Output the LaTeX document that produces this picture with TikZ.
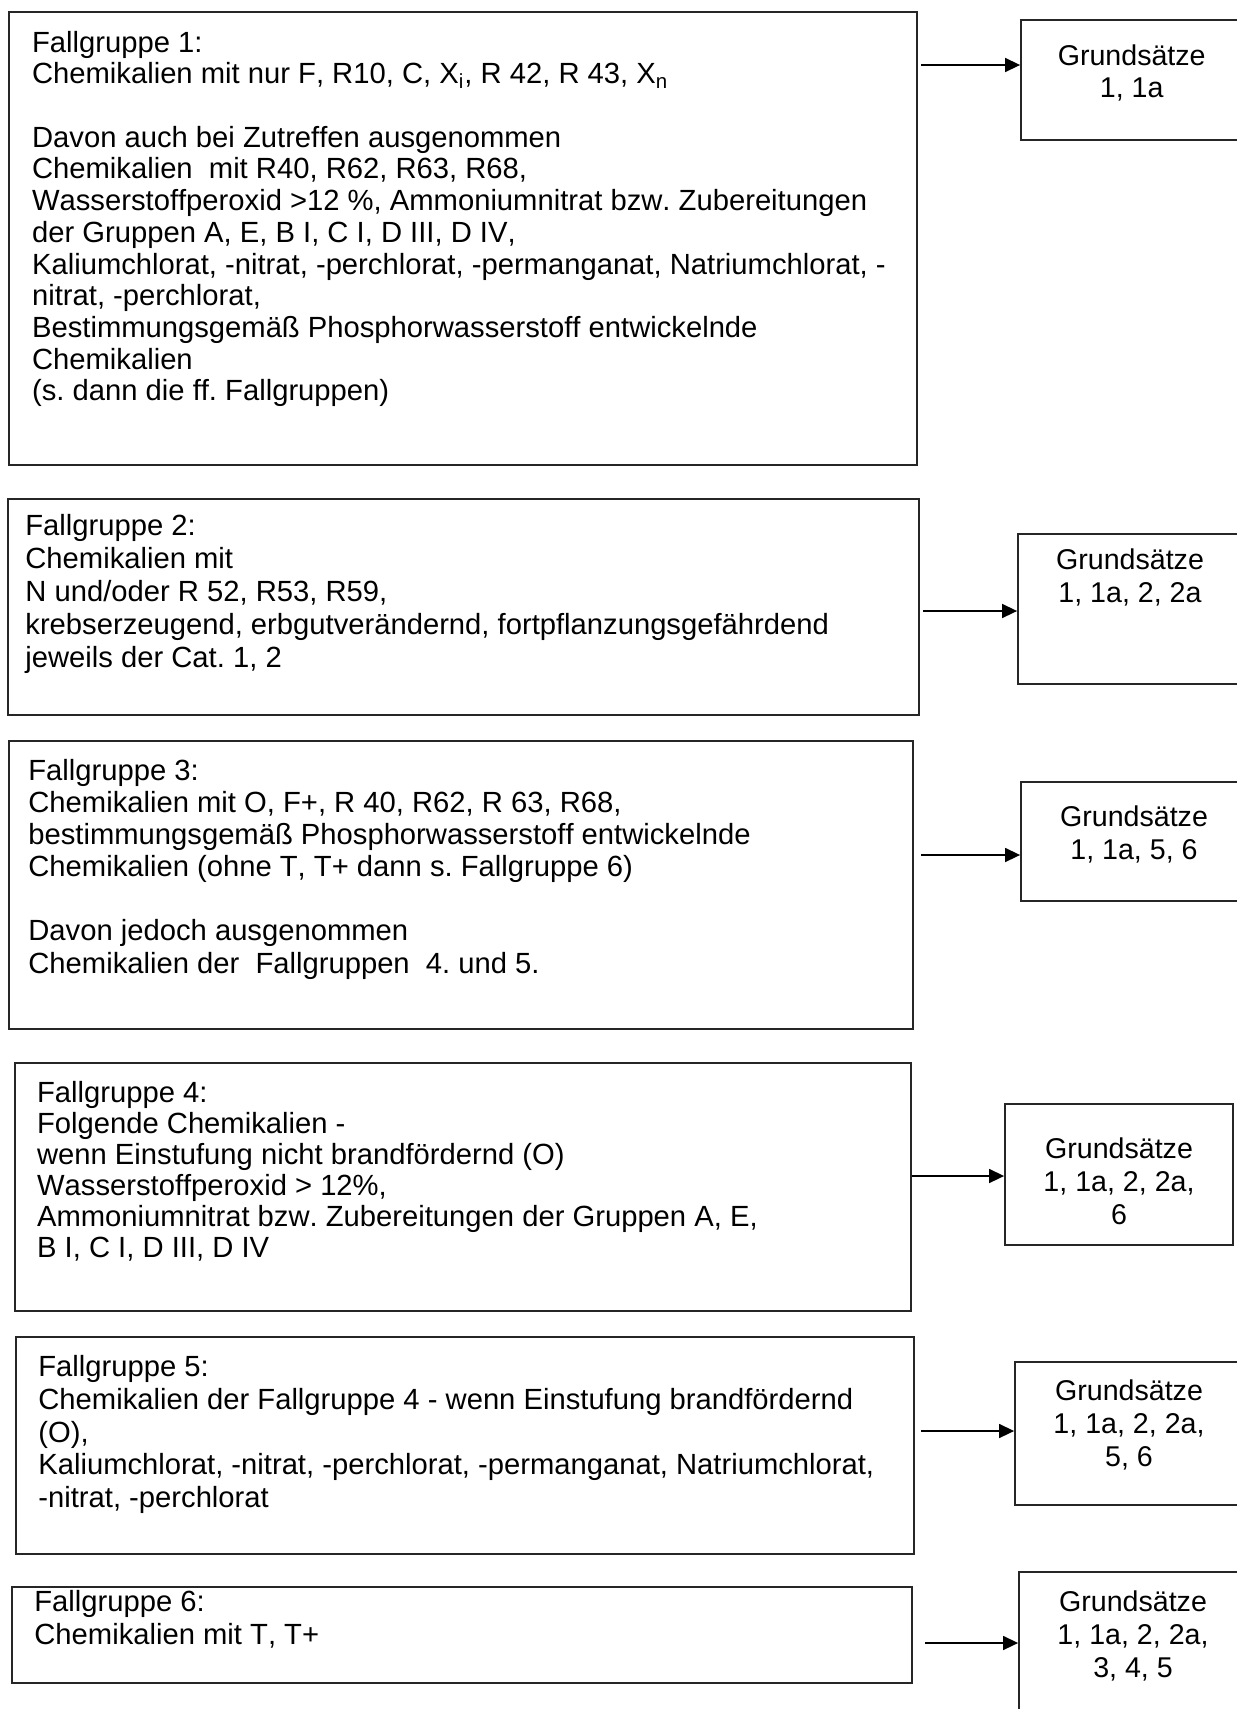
\documentclass[tikz,border=0pt]{standalone}
\usepackage{fontspec}
\setmainfont{Liberation Sans}[Kerning=Off]
\usetikzlibrary{arrows.meta,fit}
\begin{document}
\frenchspacing
\begin{tikzpicture}[x=0.5pt,y=-0.5pt,
  boxline/.style={draw=black!85,line width=0.9pt,inner sep=0pt},
  fgtext/.style={anchor=north west,inner sep=0pt,align=left,
    font=\fontsize{14.6}{#1}\selectfont\frenchspacing},
  gtext/.style={anchor=north,inner sep=0pt,align=center,
    font=\fontsize{14.3}{#1}\selectfont},
  arr/.style={draw=black,line width=0.75pt,-{Triangle[length=7.5pt,width=7pt]}}]
\useasboundingbox (0,0) rectangle (1237,1709);
\clip (0,0) rectangle (1237,1709);
\fill[white] (0,0) rectangle (1237,1709);
\def\fs{\rule{0pt}{11pt}}
% main boxes
\node[boxline,fit={(9,12) (917,465)}] (b1) {};
\node[boxline,fit={(8,499) (919,715)}] (b2) {};
\node[boxline,fit={(9,741) (913,1029)}] (b3) {};
\node[boxline,fit={(15,1063) (911,1311)}] (b4) {};
\node[boxline,fit={(16,1337) (914,1554)}] (b5) {};
\node[boxline,fit={(12,1587) (912,1683)}] (b6) {};
% Grundsaetze boxes
\node[boxline,fit={(1021,20) (1300,140)}] (g1) {};
\node[boxline,fit={(1018,534) (1300,684)}] (g2) {};
\node[boxline,fit={(1021,782) (1300,901)}] (g3) {};
\node[boxline,fit={(1005,1104) (1233,1245)}] (g4) {};
\node[boxline,fit={(1015,1362) (1300,1505)}] (g5) {};
\node[boxline,fit={(1019,1572) (1300,1760)}] (g6) {};
% texts
\node[fgtext=15.85pt] (t1) at (31.7,29.7) {\fs Fallgruppe 1:\\
Chemikalien mit nur F, R10, C, X\textsubscript{i}, R 42, R 43, X\textsubscript{n}\\[15.85pt]
Davon auch bei Zutreffen ausgenommen\\
Chemikalien\ \ mit R40, R62, R63, R68,\\
Wasserstoffperoxid >12 \%, Ammoniumnitrat bzw. Zubereitungen\\
der Gruppen A, E, B I, C I, D III, D IV,\\
Kaliumchlorat, -nitrat, -perchlorat, -permanganat, Natriumchlorat, -\\
nitrat, -perchlorat,\\
Bestimmungsgemäß Phosphorwasserstoff entwickelnde\\
Chemikalien\\
(s. dann die ff. Fallgruppen)};
\node[fgtext=16.5pt] (t2) at (25,513) {\fs Fallgruppe 2:\\
Chemikalien mit\\
N und/oder R 52, R53, R59,\\
krebserzeugend, erbgutverändernd, fortpflanzungsgefährdend\\
jeweils der Cat. 1, 2};
\node[fgtext=16.05pt] (t3) at (28,758) {\fs Fallgruppe 3:\\
Chemikalien mit O, F+, R 40, R62, R 63, R68,\\
bestimmungsgemäß Phosphorwasserstoff entwickelnde\\
Chemikalien (ohne T, T+ dann s. Fallgruppe 6)\\[16.05pt]
Davon jedoch ausgenommen\\
Chemikalien der\ \ Fallgruppen\ \ 4. und 5.};
\node[fgtext=15.5pt] (t4) at (36.7,1080) {\fs Fallgruppe 4:\\
Folgende Chemikalien -\\
wenn Einstufung nicht brandfördernd (O)\\
Wasserstoffperoxid > 12\%,\\
Ammoniumnitrat bzw. Zubereitungen der Gruppen A, E,\\
B I, C I, D III, D IV};
\node[fgtext=16.4pt] (t5) at (38,1354) {\fs Fallgruppe 5:\\
Chemikalien der Fallgruppe 4 - wenn Einstufung brandfördernd\\
(O),\\
Kaliumchlorat, -nitrat, -perchlorat, -permanganat, Natriumchlorat,\\
-nitrat, -perchlorat};
\node[fgtext=16.5pt] (t6) at (34,1589) {\fs Fallgruppe 6:\\
Chemikalien mit T, T+};
% Grundsaetze texts
\node[gtext=15.85pt] (gt1) at (1131.7,43) {\fs Grundsätze\\1, 1a};
\node[gtext=16.5pt] (gt2) at (1130,547) {\fs Grundsätze\\1, 1a, 2, 2a};
\node[gtext=16.5pt] (gt3) at (1134,804) {\fs Grundsätze\\1, 1a, 5, 6};
\node[gtext=16.5pt] (gt4) at (1119,1136) {\fs Grundsätze\\1, 1a, 2, 2a,\\6};
\node[gtext=16.5pt] (gt5) at (1129,1378) {\fs Grundsätze\\1, 1a, 2, 2a,\\5, 6};
\node[gtext=16.5pt] (gt6) at (1133,1589) {\fs Grundsätze\\1, 1a, 2, 2a,\\3, 4, 5};
% arrows
\coordinate (s1) at (921,65);
\coordinate (s2) at (923,611);
\coordinate (s3) at (921,855);
\coordinate (s4) at (b4.east |- 0,1176);
\coordinate (s5) at (921,1431);
\coordinate (s6) at (925,1643);
\draw[arr] (s1) -- (s1 -| g1.west);
\draw[arr] (s2) -- (s2 -| g2.west);
\draw[arr] (s3) -- (s3 -| g3.west);
\draw[arr] (s4) -- (s4 -| g4.west);
\draw[arr] (s5) -- (s5 -| g5.west);
\draw[arr] (s6) -- (s6 -| g6.west);
\end{tikzpicture}
\end{document}
